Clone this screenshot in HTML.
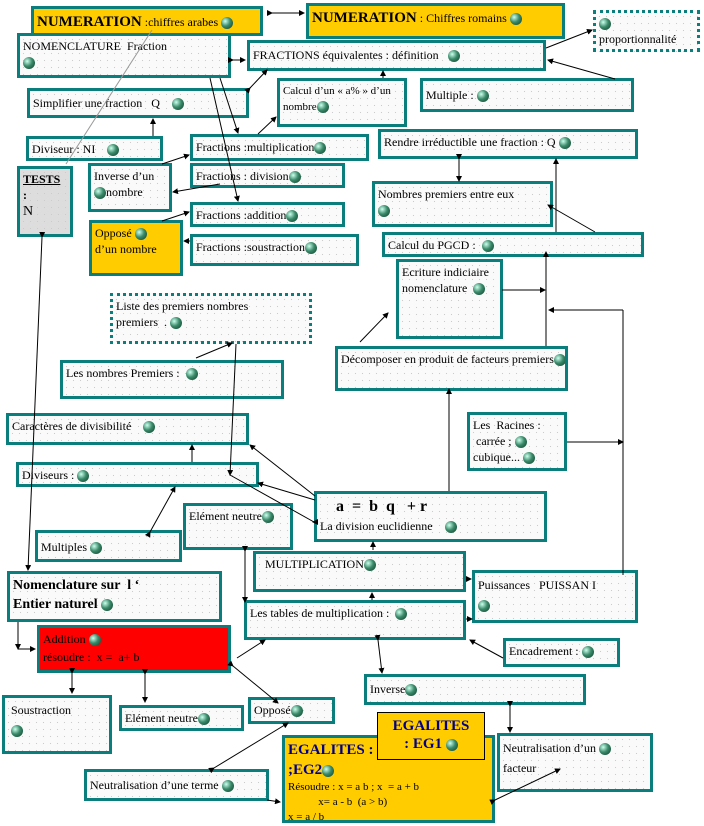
<!DOCTYPE html>
<html><head><meta charset="utf-8"><style>
body{margin:0;width:704px;height:826px;background:#fff;position:relative;overflow:hidden;font-family:"Liberation Serif",serif;font-size:12px;color:#000}
.b{position:absolute;box-sizing:border-box;border:3px solid #0a7d7d;background-color:#fafafa;background-image:radial-gradient(#ccc 0.6px,transparent 0.8px);background-size:7px 7px;padding:2px 3px;line-height:16px;overflow:hidden;white-space:nowrap}
.o{background-color:#ffcc00;background-image:none}
.d{border:3px dotted #0a7d7d}
.g{display:inline-block;width:12px;height:12px;border-radius:50%;background:radial-gradient(circle at 35% 35%,#cfe,#3a8a6a 45%,#0a3a28);vertical-align:middle}
svg{position:absolute;left:0;top:0}
</style></head><body>
<div class="b o" style="left:31px;top:6px;width:232px;height:30px;line-height:22px"><b style="font-size:15px">NUMERATION</b> :chiffres arabes <span class="g"></span></div>
<div class="b o" style="left:306px;top:3px;width:259px;height:36px;line-height:20px"><b style="font-size:15px">NUMERATION</b> : Chiffres romains <span class="g"></span></div>
<div class="b d" style="left:593px;top:10px;width:107px;height:42px"><span class="g"></span><br>proportionnalité</div>
<div class="b" style="left:17px;top:33px;width:214px;height:45px">NOMENCLATURE &nbsp;Fraction<br><span class="g"></span></div>
<div class="b" style="left:247px;top:40px;width:299px;height:31px;line-height:20px">FRACTIONS équivalentes : définition &nbsp;&nbsp;<span class="g"></span></div>
<div class="b" style="left:277px;top:78px;width:130px;height:49px;font-size:11px">Calcul d’un « a% » d’un<br>nombre<span class="g"></span></div>
<div class="b" style="left:420px;top:78px;width:214px;height:34px;line-height:24px">Multiple : <span class="g"></span></div>
<div class="b" style="left:27px;top:88px;width:222px;height:30px;line-height:20px">Simplifier une fraction &nbsp;&nbsp;Q &nbsp;&nbsp;&nbsp;<span class="g"></span></div>
<div class="b" style="left:26px;top:136px;width:137px;height:25px">Diviseur : NI &nbsp;&nbsp;&nbsp;<span class="g"></span></div>
<div class="b" style="left:190px;top:134px;width:179px;height:27px">Fractions :multiplication<span class="g"></span></div>
<div class="b" style="left:378px;top:129px;width:260px;height:30px">Rendre irréductible une fraction : Q <span class="g"></span></div>
<div class="b" style="left:17px;top:166px;width:56px;height:71px;background-color:#ddd;border-width:3px"><b><u>TESTS</u><br>:</b><br><span style="font-size:14px">N</span></div>
<div class="b" style="left:88px;top:163px;width:84px;height:49px">Inverse d’un<br><span class="g"></span>nombre</div>
<div class="b" style="left:190px;top:163px;width:155px;height:25px">Fractions : division<span class="g"></span></div>
<div class="b" style="left:372px;top:181px;width:181px;height:46px">Nombres premiers entre eux<br><span class="g"></span></div>
<div class="b" style="left:190px;top:202px;width:155px;height:25px">Fractions :addition<span class="g"></span></div>
<div class="b o" style="left:89px;top:220px;width:94px;height:56px">Opposé <span class="g"></span><br>d’un nombre</div>
<div class="b" style="left:190px;top:234px;width:169px;height:32px">Fractions :soustraction<span class="g"></span></div>
<div class="b" style="left:382px;top:232px;width:262px;height:25px">Calcul du PGCD : &nbsp;<span class="g"></span></div>
<div class="b" style="left:396px;top:259px;width:107px;height:80px">Ecriture indiciaire<br>nomenclature &nbsp;<span class="g"></span></div>
<div class="b d" style="left:110px;top:293px;width:202px;height:51px">Liste des premiers nombres<br>premiers &nbsp;. <span class="g"></span></div>
<div class="b" style="left:60px;top:360px;width:224px;height:39px">Les nombres Premiers : &nbsp;<span class="g"></span></div>
<div class="b" style="left:335px;top:346px;width:233px;height:45px">Décomposer en produit de facteurs premiers<span class="g"></span></div>
<div class="b" style="left:6px;top:413px;width:243px;height:32px">Caractères de divisibilité &nbsp;&nbsp;&nbsp;<span class="g"></span></div>
<div class="b" style="left:467px;top:412px;width:100px;height:59px">Les &nbsp;Racines :<br>&nbsp;carrée ; <span class="g"></span><br>cubique... <span class="g"></span></div>
<div class="b" style="left:16px;top:462px;width:243px;height:25px">Diviseurs : <span class="g"></span></div>
<div class="b" style="left:314px;top:491px;width:233px;height:51px"><span style="font-size:16px;font-weight:bold;line-height:22px">&nbsp;&nbsp;&nbsp;&nbsp;a &nbsp;= &nbsp;b &nbsp;q &nbsp;&nbsp;+ r</span><br>La division euclidienne &nbsp;&nbsp;&nbsp;<span class="g"></span></div>
<div class="b" style="left:183px;top:503px;width:110px;height:47px">Elément neutre<span class="g"></span></div>
<div class="b" style="left:35px;top:530px;width:147px;height:32px;line-height:24px">Multiples <span class="g"></span></div>
<div class="b" style="left:253px;top:551px;width:213px;height:41px">&nbsp;&nbsp;MULTIPLICATION<span class="g"></span></div>
<div class="b" style="left:7px;top:571px;width:215px;height:51px;font-size:14px;line-height:19px"><b>Nomenclature sur &nbsp;l ‘<br>Entier naturel</b> <span class="g"></span></div>
<div class="b" style="left:472px;top:570px;width:166px;height:53px;line-height:20px">Puissances &nbsp;&nbsp;PUISSAN I<br><span class="g"></span></div>
<div class="b" style="left:244px;top:600px;width:222px;height:40px">Les tables de multiplication : &nbsp;<span class="g"></span></div>
<div class="b" style="left:37px;top:625px;width:194px;height:48px;background:#ff0000;line-height:18px">Addition <span class="g"></span><br>résoudre : &nbsp;x = &nbsp;a+ b</div>
<div class="b" style="left:503px;top:638px;width:117px;height:29px">Encadrement : <span class="g"></span></div>
<div class="b" style="left:364px;top:674px;width:222px;height:31px;line-height:20px">Inverse<span class="g"></span></div>
<div class="b" style="left:2px;top:695px;width:110px;height:59px;line-height:20px">&nbsp;Soustraction<br>&nbsp;<span class="g"></span></div>
<div class="b" style="left:119px;top:705px;width:125px;height:26px">Elément neutre<span class="g"></span></div>
<div class="b" style="left:248px;top:697px;width:87px;height:27px">Opposé<span class="g"></span></div>
<div class="b o" style="left:282px;top:735px;width:213px;height:88px;line-height:15px;font-size:11px"><b style="font-size:15px;color:#00008b;line-height:20px">EGALITES :</b><br><b style="font-size:15px;color:#00008b;line-height:20px">;EG2</b><span class="g"></span><br>Résoudre : x = a b ; x &nbsp;= a + b<br>&nbsp;&nbsp;&nbsp;&nbsp;&nbsp;&nbsp;&nbsp;&nbsp;&nbsp;&nbsp;&nbsp;x= a - b &nbsp;(a &gt; b)<br>x = a / b</div>
<div class="b o" style="left:377px;top:712px;width:108px;height:48px;border:1px solid #000;text-align:center;font-size:15px;color:#00008b;line-height:18px;padding-top:4px"><b>EGALITES<br>: EG1</b> <span class="g"></span></div>
<div class="b" style="left:497px;top:733px;width:156px;height:59px;line-height:20px">Neutralisation d’un <span class="g"></span><br>facteur</div>
<div class="b" style="left:84px;top:769px;width:185px;height:32px;line-height:22px">Neutralisation d’une terme <span class="g"></span></div>
<svg width="704" height="826">
<defs><marker id="a" markerWidth="6" markerHeight="6" refX="5" refY="3" orient="auto"><path d="M0,0L6,3L0,6z"/></marker></defs>
<g stroke="#000" stroke-width="1" fill="none" marker-end="url(#a)">
<line x1="272" y1="13" x2="304" y2="13" marker-start="url(#a)"/>
<line x1="233" y1="60" x2="245" y2="60" marker-start="url(#a)"/>
<line x1="250" y1="88" x2="267" y2="70" marker-start="url(#a)"/>
<line x1="153" y1="136" x2="153" y2="119"/>
<line x1="258" y1="134" x2="276" y2="117"/>
<line x1="220" y1="78" x2="238" y2="133"/>
<line x1="210" y1="78" x2="238" y2="201"/>
<line x1="162" y1="164" x2="189" y2="155"/>
<line x1="220" y1="184" x2="173" y2="192"/>
<line x1="162" y1="221" x2="189" y2="212"/>
<line x1="190" y1="241" x2="184" y2="241"/>
<line x1="383" y1="78" x2="383" y2="71"/>
<line x1="546" y1="48" x2="592" y2="30"/>
<line x1="615" y1="79" x2="548" y2="60"/>
<line x1="459" y1="159" x2="459" y2="181" marker-start="url(#a)"/>
<line x1="595" y1="232" x2="548" y2="205"/>
<line x1="556" y1="232" x2="556" y2="159"/>
<line x1="546" y1="346" x2="546" y2="252"/>
<line x1="502" y1="290" x2="545" y2="290"/>
<line x1="623" y1="310" x2="549" y2="310"/>
<line x1="623" y1="575" x2="623" y2="310" marker-end="none"/>
<line x1="567" y1="442" x2="623" y2="442"/>
<line x1="360" y1="342" x2="388" y2="313"/>
<line x1="449" y1="491" x2="449" y2="389"/>
<line x1="196" y1="358" x2="232" y2="343"/>
<line x1="236" y1="344" x2="230" y2="475"/>
<line x1="230" y1="475" x2="314" y2="522" marker-end="none"/>
<line x1="314" y1="522" x2="313" y2="522"/>
<line x1="315" y1="500" x2="258" y2="483"/>
<line x1="315" y1="496" x2="250" y2="445"/>
<line x1="192" y1="462" x2="192" y2="445"/>
<line x1="150" y1="532" x2="175" y2="487" marker-start="url(#a)"/>
<line x1="42" y1="237" x2="28" y2="570" marker-start="url(#a)"/>
<line x1="373" y1="550" x2="373" y2="542"/>
<line x1="245" y1="551" x2="245" y2="602" marker-start="url(#a)"/>
<line x1="372" y1="600" x2="372" y2="593"/>
<line x1="466" y1="579" x2="471" y2="579"/>
<line x1="466" y1="619" x2="472" y2="619"/>
<line x1="503" y1="658" x2="470" y2="640"/>
<line x1="378" y1="640" x2="382" y2="673" marker-start="url(#a)"/>
<line x1="237" y1="658" x2="265" y2="640"/>
<line x1="233" y1="666" x2="278" y2="703" marker-start="url(#a)"/>
<line x1="18" y1="622" x2="18" y2="649"/>
<line x1="18" y1="649" x2="35" y2="649"/>
<line x1="72" y1="673" x2="72" y2="693" marker-start="url(#a)"/>
<line x1="145" y1="674" x2="145" y2="702" marker-start="url(#a)"/>
<line x1="214" y1="768" x2="288" y2="723" marker-start="url(#a)"/>
<line x1="510" y1="706" x2="510" y2="732" marker-start="url(#a)"/>
<line x1="495" y1="800" x2="560" y2="769" marker-start="url(#a)"/>
<line x1="267" y1="800" x2="280" y2="802"/>
</g>
<line x1="152" y1="30" x2="66" y2="164" stroke="#999" stroke-width="1"/>
</svg>
</body></html>
